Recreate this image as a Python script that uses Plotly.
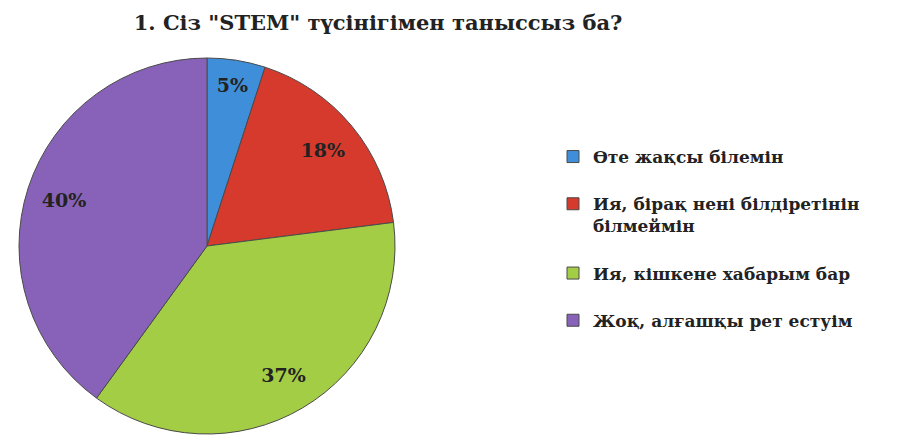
import plotly.graph_objects as go

categories = [
    "Өте жақсы білемін",
    "Ия, бірақ нені білдіретінін<br>білмеймін",
    "Ия, кішкене хабарым бар",
    "Жоқ, алғашқы рет естуім",
]
values = [5, 18, 37, 40]
colors = ["#3F8EDA", "#D63A2D", "#A2CD45", "#8762B8"]
title = '1. Сіз "STEM" түсінігімен таныссыз ба?'

# extra blank line after each entry reproduces the wide spacing of the legend
legend_names = [c + "<br> " for c in categories]

SERIF = "DejaVu Serif"
W, H = 921, 437
dom = dict(x=[11 / W, 387 / W], y=[11 / H, 387 / H])

fig = go.Figure()
fig.add_trace(
    go.Pie(
        labels=legend_names,
        values=values,
        sort=False,
        direction="clockwise",
        rotation=0,
        marker=dict(colors=colors, line=dict(color="#4a4a4a", width=1)),
        textinfo="none",
        domain=dom,
        hoverinfo="label+percent",
    )
)
# transparent ring carrying the percentage labels, like the outer label ring of the original
fig.add_trace(
    go.Pie(
        labels=legend_names,
        values=values,
        sort=False,
        direction="clockwise",
        rotation=0,
        hole=0.6,
        marker=dict(colors=["rgba(0,0,0,0)"] * len(values), line=dict(width=0)),
        texttemplate="%{percent:.0%}",
        textposition="inside",
        insidetextorientation="horizontal",
        textfont=dict(family=SERIF, size=19, color="#222222", weight="bold"),
        domain=dom,
        showlegend=False,
        hoverinfo="skip",
    )
)

fig.update_layout(
    width=W,
    height=H,
    margin=dict(l=0, r=0, t=0, b=0),
    paper_bgcolor="white",
    plot_bgcolor="white",
    font=dict(family=SERIF, color="#222222", weight="bold"),
    title=dict(
        text=title,
        x=370 / W,
        xanchor="center",
        y=1 - 15 / H,
        yanchor="middle",
        font=dict(family=SERIF, size=21, color="#222222", weight="bold"),
    ),
    legend=dict(
        x=545 / W,
        xanchor="left",
        y=1 - 131 / H,
        yanchor="top",
        font=dict(family=SERIF, size=17, color="#222222", weight="bold"),
        bgcolor="rgba(0,0,0,0)",
        valign="top",
        itemwidth=30,
    ),
    showlegend=True,
)

fig.write_html("out.html")
